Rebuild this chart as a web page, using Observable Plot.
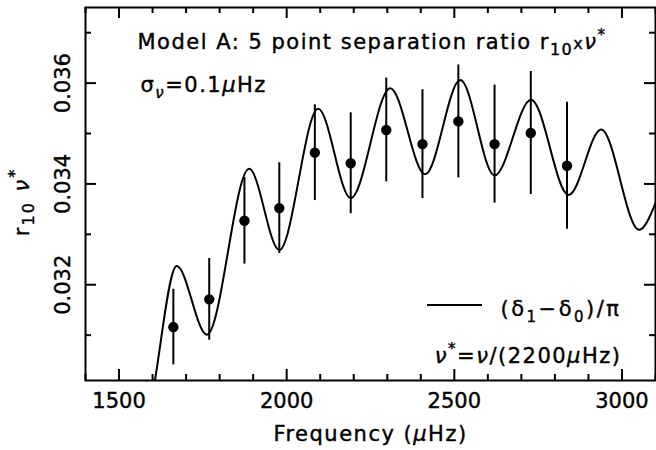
<!DOCTYPE html>
<html><head><meta charset="utf-8">
<script src="https://cdn.jsdelivr.net/npm/d3@7"></script>
<script src="https://cdn.jsdelivr.net/npm/@observablehq/plot@0.6"></script>
<style>body{margin:0;background:#fff} svg{font-family:"DejaVu Sans",sans-serif}</style>
</head><body><div id="chart"></div>
<script>
// Observed separation ratios (points with error bars)
const freq  = [1662, 1769, 1874, 1978, 2084, 2191, 2297, 2405, 2512, 2620, 2728, 2836];
const ratio = [0.03116, 0.03171, 0.03327, 0.03352, 0.03462, 0.03441, 0.03507, 0.03479, 0.03524, 0.03479, 0.03501, 0.03436];
const err   = [0.00075, 0.00081, 0.00086, 0.00090, 0.00095, 0.00100, 0.00103, 0.00108, 0.00112, 0.00117, 0.00122, 0.00126];
// Model curve (delta1 - delta0)/pi, read at its turning points
const modelFreq  = [1590, 1607, 1672, 1762, 1888, 1978, 2094, 2191, 2309, 2413, 2518, 2620, 2729, 2841, 2938, 3051, 3100];
const modelRatio = [0.0294, 0.0301, 0.03237, 0.03101, 0.03430, 0.03269, 0.03549, 0.03372, 0.03590, 0.03419, 0.03606, 0.03417, 0.03567, 0.03378, 0.03508, 0.03309, 0.03362];
// Ticks
const xMajor = [1500, 2000, 2500, 3000];
const xMinor = [1400, 1600, 1700, 1800, 1900, 2100, 2200, 2300, 2400, 2600, 2700, 2800, 2900, 3100];
const yMajor = [0.032, 0.034, 0.036];
const yMinor = [0.031, 0.033, 0.035, 0.037];
const xDomain = [1400, 3100];
const yDomain = [0.0301, 0.0375];

const W = 656, H = 450, mL = 85, mR = 1, mT = 7, mB = 70;
const pw = W - mL - mR, ph = H - mT - mB;
const points = freq.map((f, i) => ({f, r: ratio[i], e: err[i]}));
const model = modelFreq.map((f, i) => ({f, r: modelRatio[i]}));

const texts = {
  title: "Model A: 5 point separation ratio r10xν*",
  sigma: "σν=0.1μHz",
  ylab: "r10 ν*",
  xlab: "Frequency (μHz)",
  leg1: "(δ1−δ0)/π",
  leg2: "ν*=ν/(2200μHz)"
};
const rich = {
  [texts.title]: ['Model A: 5 point separation ratio r<tspan dy="6" font-size="16">10</tspan><tspan dy="-6" font-size="16">x</tspan><tspan font-style="italic">ν</tspan><tspan dy="-9" font-size="15">*</tspan>', 1.5],
  [texts.sigma]: ['σ<tspan dy="6" font-size="15" font-style="italic">ν</tspan><tspan dy="-6">=0.1</tspan><tspan font-style="italic">μ</tspan>Hz', 1.5],
  [texts.ylab]: ['r<tspan dy="5" font-size="16">10</tspan><tspan dy="-5" font-size="24"> </tspan><tspan font-style="italic">ν</tspan><tspan dy="-9" font-size="16">*</tspan>', 2],
  [texts.xlab]: ['Frequency (<tspan font-style="italic">μ</tspan>Hz)', 1.5],
  [texts.leg1]: ['(δ<tspan dy="6" font-size="15">1</tspan><tspan dy="-6">−δ</tspan><tspan dy="6" font-size="15">0</tspan><tspan dy="-6">)/π</tspan>', 2.5],
  [texts.leg2]: ['<tspan font-style="italic">ν</tspan><tspan dy="-9" font-size="15">*</tspan><tspan dy="9">=</tspan><tspan font-style="italic">ν</tspan>/(2200<tspan font-style="italic">μ</tspan>Hz)', 1.5]
};

const chart = Plot.plot({
  width: W, height: H,
  marginLeft: mL, marginRight: mR, marginTop: mT, marginBottom: mB,
  style: {fontFamily: "DejaVu Sans, sans-serif", background: "#fff", color: "#000"},
  x: {domain: xDomain, axis: null},
  y: {domain: yDomain, axis: null},
  marks: [
    Plot.line(model, {x: "f", y: "r", curve: "monotone-x", stroke: "#000", strokeWidth: 2, clip: true}),
    Plot.ruleX(points, {x: "f", y1: d => d.r - d.e, y2: d => d.r + d.e, stroke: "#000", strokeWidth: 2}),
    Plot.dot(points, {x: "f", y: "r", r: 5.2, fill: "#000", stroke: null}),
    // ticks pointing inward on all four sides
    Plot.ruleX(xMajor, {x: d => d, insetTop: ph - 11, strokeWidth: 2}),
    Plot.ruleX(xMajor, {x: d => d, insetBottom: ph - 11, strokeWidth: 2}),
    Plot.ruleX(xMinor, {x: d => d, insetTop: ph - 6, strokeWidth: 2}),
    Plot.ruleX(xMinor, {x: d => d, insetBottom: ph - 6, strokeWidth: 2}),
    Plot.ruleY(yMajor, {y: d => d, insetRight: pw - 11, strokeWidth: 2}),
    Plot.ruleY(yMajor, {y: d => d, insetLeft: pw - 11, strokeWidth: 2}),
    Plot.ruleY(yMinor, {y: d => d, insetRight: pw - 6, strokeWidth: 2}),
    Plot.ruleY(yMinor, {y: d => d, insetLeft: pw - 6, strokeWidth: 2}),
    Plot.frame({stroke: "#000", strokeWidth: 2}),
    // tick labels
    Plot.text(xMajor, {x: d => d, text: d => String(d), frameAnchor: "bottom", dy: 21, textAnchor: "middle", lineAnchor: "middle", fontSize: 21, fill: "#000", stroke: "#000", strokeWidth: 0.4}),
    Plot.text(yMajor, {y: d => d, text: d => d.toFixed(3), frameAnchor: "left", dx: -22, rotate: -90, textAnchor: "middle", lineAnchor: "middle", fontSize: 21, fill: "#000", stroke: "#000", strokeWidth: 0.4}),
    // axis labels
    Plot.text([texts.xlab], {text: d => d, frameAnchor: "bottom", dy: 60, textAnchor: "middle", lineAnchor: "bottom", fontSize: 21, fill: "#000", stroke: "#000", strokeWidth: 0.4}),
    Plot.text([texts.ylab], {text: d => d, frameAnchor: "left", dx: -57, dy: 8, rotate: -90, textAnchor: "middle", lineAnchor: "bottom", fontSize: 21, fill: "#000", stroke: "#000", strokeWidth: 0.4}),
    // annotations
    Plot.text([texts.title], {text: d => d, frameAnchor: "top-left", dx: 52, dy: 41, textAnchor: "start", lineAnchor: "bottom", fontSize: 21, fill: "#000", stroke: "#000", strokeWidth: 0.4}),
    Plot.text([texts.sigma], {text: d => d, frameAnchor: "top-left", dx: 55, dy: 84, textAnchor: "start", lineAnchor: "bottom", fontSize: 21, fill: "#000", stroke: "#000", strokeWidth: 0.4}),
    Plot.text([texts.leg1], {text: d => d, frameAnchor: "bottom-right", dx: -34, dy: -65, textAnchor: "end", lineAnchor: "bottom", fontSize: 21, fill: "#000", stroke: "#000", strokeWidth: 0.4}),
    Plot.text([texts.leg2], {text: d => d, frameAnchor: "bottom-right", dx: -34, dy: -18, textAnchor: "end", lineAnchor: "bottom", fontSize: 21, fill: "#000", stroke: "#000", strokeWidth: 0.4})
  ]
});

d3.select(chart).selectAll("text").each(function() {
  const t = this.textContent;
  if (rich[t] !== undefined) {
    this.innerHTML = rich[t][0];
    this.setAttribute("letter-spacing", rich[t][1]);
  }
});
// legend sample line
d3.select(chart).append("line")
  .attr("x1", W - mR - 228).attr("x2", W - mR - 173)
  .attr("y1", H - mB - 75).attr("y2", H - mB - 75)
  .attr("stroke", "#000").attr("stroke-width", 2);

document.getElementById("chart").appendChild(chart);
</script>
</body></html>
